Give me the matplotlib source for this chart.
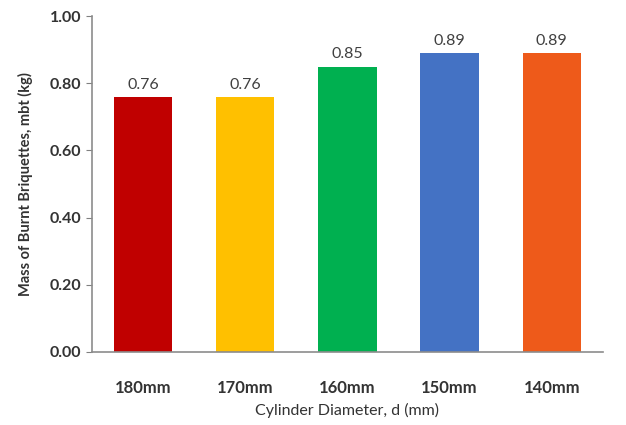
import matplotlib.pyplot as plt

# burnt briquette mass for each cylinder diameter
diameters = ["180mm", "170mm", "160mm", "150mm", "140mm"]
mass = [0.76, 0.76, 0.85, 0.89, 0.89]
colors = ["#C00000", "#FFC000", "#00B050", "#4472C4", "#EE5A1A"]

plt.rcParams['font.family'] = ['Lato', 'DejaVu Sans']

fig = plt.figure(figsize=(6.26, 4.25), dpi=100)
ax = fig.add_axes([0.147, 0.172, 0.816, 0.79])

bars = ax.bar(range(len(diameters)), mass, width=0.57, color=colors)
for b, v in zip(bars, mass):
    ax.text(b.get_x() + b.get_width() / 2, v + 0.015, f"{v:.2f}",
            ha="center", va="bottom", fontsize=11.5, color="#404040")

ax.set_xlim(-0.5, 4.5)
ax.set_ylim(0, 1.0)
ax.set_yticks([0, 0.2, 0.4, 0.6, 0.8, 1.0])
ax.set_yticklabels([f"{t:.2f}" for t in ax.get_yticks()], fontweight="bold")
ax.set_xticks(range(len(diameters)))
ax.set_xticklabels(diameters, fontweight="bold")
ax.tick_params(axis="both", colors="#808080", labelcolor="#333333")
ax.tick_params(axis="x", length=0, pad=20, labelsize=12)
ax.tick_params(axis="y", length=4, labelsize=11.5)

for side in ["top", "right"]:
    ax.spines[side].set_visible(False)
for side in ["left", "bottom"]:
    ax.spines[side].set_color("#8c8c8c")
    ax.spines[side].set_linewidth(1.2)

ax.set_ylabel("Mass of Burnt Briquettes, mbt (kg)", fontsize=10.5,
              fontweight="bold", color="#333333", labelpad=12)
ax.set_xlabel("Cylinder Diameter, d (mm)", fontsize=11.5, color="#333333",
              labelpad=5)

fig.savefig("out.png", dpi=100)
